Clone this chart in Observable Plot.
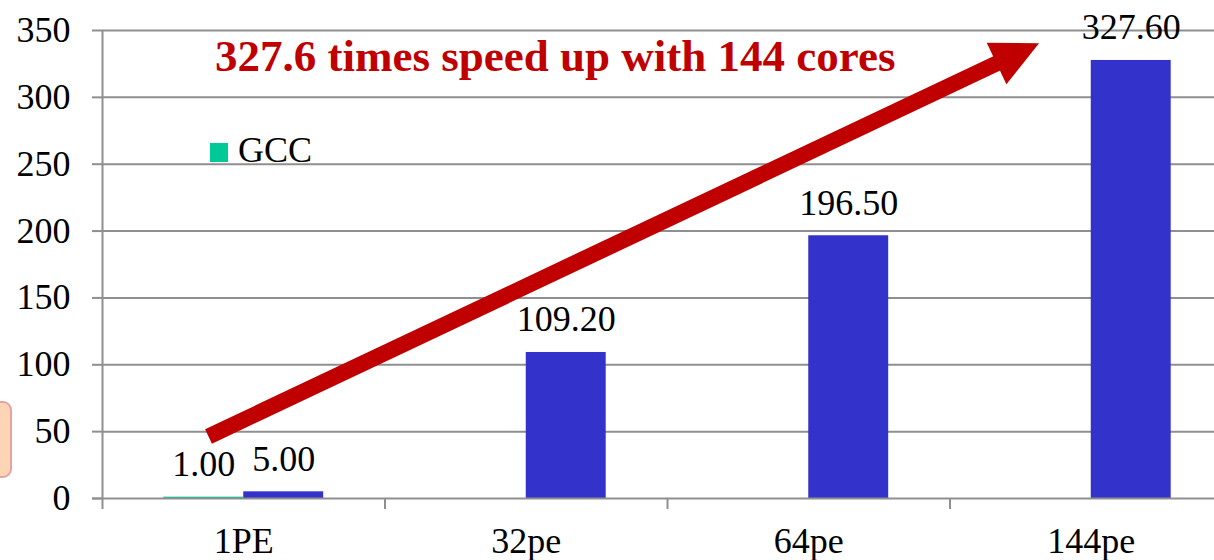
<!DOCTYPE html>
<html>
<head>
<meta charset="utf-8">
<script src="https://cdn.jsdelivr.net/npm/d3@7"></script>
<script src="https://cdn.jsdelivr.net/npm/@observablehq/plot@0.6"></script>
<style>
  html, body { margin: 0; padding: 0; background: #fff; }
  #wrap { position: relative; width: 1214px; height: 560px; overflow: hidden;
          font-family: "Liberation Serif", "Times New Roman", serif; }
  #wrap svg { position: absolute; left: 0; top: 0; font-family: "Liberation Serif", "Times New Roman", serif; }
  #wrap svg text { font-family: "Liberation Serif", "Times New Roman", serif; }
  .title { position: absolute; left: 215px; top: 34px; font-size: 45px; line-height: 45px;
           font-weight: bold; color: #c00000; white-space: nowrap; }
  .legend-sw { position: absolute; left: 210px; top: 143px; width: 18px; height: 19px; background: #00c896; }
  .legend-tx { position: absolute; left: 238px; top: 132px; font-size: 36px; line-height: 36px; color: #000; white-space: nowrap; }
  .note { position: absolute; left: -12px; top: 401px; width: 20px; height: 73px; background: #fcd6b4;
          border: 2px solid #e5a3a3; border-radius: 9px; }
</style>
</head>
<body>
<div id="wrap"></div>
<script>
const categories = ["1PE", "32pe", "64pe", "144pe"];
const gccValues = [1.00, null, null, null];
const otherValues = [5.00, 109.20, 196.50, 327.60];
const yTicks = [0, 50, 100, 150, 200, 250, 300, 350];
const legendLabel = "GCC";
const titleText = "327.6 times speed up with 144 cores";
// arrow annotation in data units: [category index, value]
const arrowStart = [-0.123, 46];
const arrowEnd = [2.817, 340];

const colors = {gcc: "#00c896", other: "#3333cc", arrow: "#c00000", grid: "#8f8f8f"};
const serif = "Liberation Serif, Times New Roman, serif";
const barW = 0.283;

const rows = [];
categories.forEach((c, i) => {
  if (gccValues[i] != null) rows.push({cat: c, series: "gcc", value: gccValues[i], x1: i - barW, x2: i});
  if (otherValues[i] != null) rows.push({cat: c, series: "other", value: otherValues[i], x1: i, x2: i + barW});
});

function arrowMark(index, scales) {
  const x0 = scales.x(arrowStart[0]), y0 = scales.y(arrowStart[1]);
  const x1 = scales.x(arrowEnd[0]), y1 = scales.y(arrowEnd[1]);
  const dx = x1 - x0, dy = y1 - y0, len = Math.hypot(dx, dy);
  const ux = dx / len, uy = dy / len, px = -uy, py = ux;
  const headLen = 47, headHalf = 23;
  const bx = x1 - ux * headLen, by = y1 - uy * headLen;
  const g = d3.create("svg:g");
  g.append("line")
    .attr("x1", x0).attr("y1", y0).attr("x2", bx + ux * 2).attr("y2", by + uy * 2)
    .attr("stroke", colors.arrow).attr("stroke-width", 16);
  g.append("polygon")
    .attr("points", [[x1, y1], [bx + px * headHalf, by + py * headHalf], [bx - px * headHalf, by - py * headHalf]].map(p => p.join(",")).join(" "))
    .attr("fill", colors.arrow);
  return g.node();
}

const chart = Plot.plot({
  width: 1214, height: 560,
  marginLeft: 102, marginRight: 0, marginTop: 30, marginBottom: 62,
  x: {type: "linear", domain: [-0.5, 3.5], range: [102, 1232]},
  y: {domain: [0, 350]},
  style: "font-family: 'Liberation Serif', 'Times New Roman', serif; font-size: 36px; background: transparent; overflow: visible; color: #000;",
  marks: [
    Plot.ruleY(yTicks.filter(v => v > 0), {stroke: colors.grid, strokeWidth: 2}),
    Plot.rectY(rows, {x1: "x1", x2: "x2", y1: 0, y2: "value", fill: d => colors[d.series]}),
    Plot.ruleY([0], {stroke: colors.grid, strokeWidth: 2, insetLeft: -10}),
    Plot.ruleX([-0.5], {y1: 350, y2: 0, insetBottom: -11, stroke: colors.grid, strokeWidth: 2}),
    Plot.ruleX([0.5, 1.5, 2.5], {y1: 0, y2: 0, insetBottom: -11, stroke: colors.grid, strokeWidth: 2}),
    Plot.axisY({ticks: yTicks, tickSize: 10, tickPadding: 22, stroke: colors.grid, strokeWidth: 2, fontSize: 36, fontFamily: serif, label: null}),
    Plot.axisX({ticks: [0, 1, 2, 3], tickFormat: i => categories[i], tickSize: 0, tickPadding: 29, fontSize: 36, fontFamily: serif, label: null}),
    Plot.text(rows, {x: d => (d.x1 + d.x2) / 2, y: "value", text: d => d.value.toFixed(2), lineAnchor: "bottom", dy: -21, fontSize: 36, fontFamily: serif, fill: "#000"}),
    arrowMark
  ]
});

const wrap = document.getElementById("wrap");
wrap.appendChild(chart);
const note = document.createElement("div"); note.className = "note"; wrap.appendChild(note);
const sw = document.createElement("div"); sw.className = "legend-sw"; wrap.appendChild(sw);
const lt = document.createElement("div"); lt.className = "legend-tx"; lt.textContent = legendLabel; wrap.appendChild(lt);
const t = document.createElement("div"); t.className = "title"; t.textContent = titleText; wrap.appendChild(t);
</script>
</body>
</html>
